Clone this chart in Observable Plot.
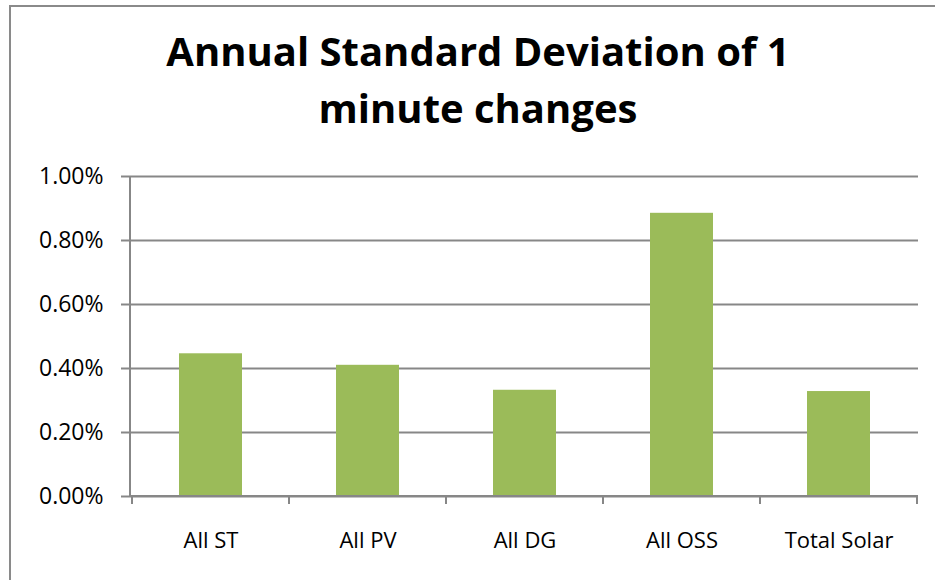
<!DOCTYPE html>
<html>
<head>
<meta charset="utf-8">
<script src="https://cdn.jsdelivr.net/npm/d3@7"></script>
<script src="https://cdn.jsdelivr.net/npm/@observablehq/plot@0.6"></script>
<style>
  html, body { margin: 0; padding: 0; background: #fff; overflow: hidden; }
  #frame { position: absolute; left: 9px; top: 5px; width: 1000px; height: 1000px; z-index: 10;
           border-top: 2px solid #8a8a8a; border-left: 2px solid #8a8a8a; box-sizing: border-box;
           pointer-events: none; }
  #title { position: absolute; left: 0; top: 22px; width: 956px; text-align: center;
           font-family: "Open Sans", sans-serif; font-weight: bold; font-size: 40px;
           line-height: 57px; color: #000; }
  #chart { position: absolute; left: 0; top: 150px; }
</style>
</head>
<body>
<div id="frame"></div>
<div id="title">Annual Standard Deviation of 1<br>minute changes</div>
<div id="chart"></div>
<script>
const categories = ["All ST", "All PV", "All DG", "All OSS", "Total Solar"];
const values = [0.00446, 0.00410, 0.00332, 0.00885, 0.00328];
const yTicks = [0, 0.002, 0.004, 0.006, 0.008, 0.010];

const data = categories.map((c, i) => ({cat: c, v: values[i]}));
const gray = "#878787";

const plot = Plot.plot({
  width: 935,
  height: 430,
  marginLeft: 130,
  marginRight: 17,
  marginTop: 26,
  marginBottom: 84,
  style: {fontFamily: "'Open Sans', sans-serif", fontSize: "22px", color: "#000", background: "transparent"},
  x: {domain: categories, paddingInner: 0.6, paddingOuter: 0.3, label: null},
  y: {domain: [0, 0.01], label: null},
  marks: [
    Plot.ruleY(yTicks, {stroke: gray, strokeWidth: 2, strokeOpacity: 1}),
    Plot.barY(data, {x: "cat", y: "v", fill: "#9bbb59"}),
    Plot.axisY({ticks: yTicks, tickFormat: d3.format(".2%"), tickSize: 9, tickPadding: 18,
                stroke: gray, strokeWidth: 2, strokeOpacity: 1, fill: "#000", fontSize: 23, label: null}),
    Plot.axisX({tickSize: 0, tickPadding: 36, fill: "#000", label: null})
  ]
});
document.getElementById("chart").appendChild(plot);

// axis lines and category boundary ticks, derived from Plot's scales
const xs = plot.scale("x");
const ys = plot.scale("y");
const svg = d3.select(plot);
const xL = xs.range[0], xR = xs.range[1];
const y0 = ys.apply(0);
const g = svg.append("g").attr("stroke", gray).attr("stroke-width", 2);
g.append("line").attr("x1", xL).attr("x2", xL).attr("y1", ys.apply(0.01)).attr("y2", y0);
g.append("line").attr("x1", xL).attr("x2", xR).attr("y1", y0).attr("y2", y0);
const half = (xs.step - xs.bandwidth) / 2;
const bounds = categories.map(c => xs.apply(c) - half).concat([xs.apply(categories[categories.length - 1]) + xs.bandwidth + half]);
bounds.forEach(b => g.append("line").attr("x1", b).attr("x2", b).attr("y1", y0).attr("y2", y0 + 8));
</script>
</body>
</html>
